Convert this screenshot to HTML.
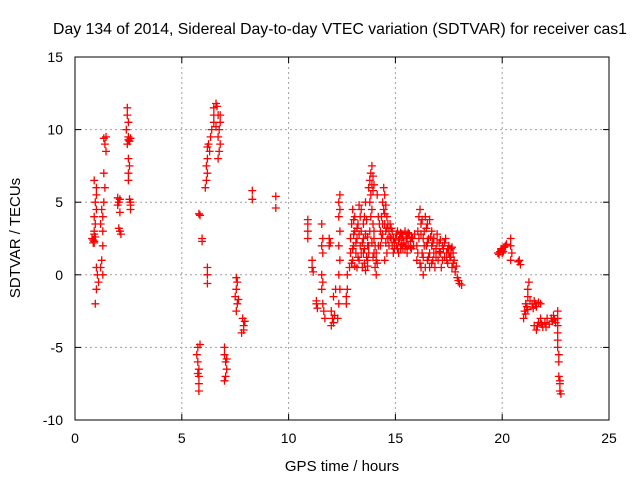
<!DOCTYPE html>
<html><head><meta charset="utf-8"><style>
body{margin:0;background:#fff}
svg{display:block;font-family:"Liberation Sans",sans-serif}
</style></head><body>
<svg id="chart" width="640" height="480" viewBox="0 0 640 480" xmlns="http://www.w3.org/2000/svg">
<rect width="640" height="480" fill="#fff"/>
<text x="340" y="34" font-size="15.8" text-anchor="middle">Day 134 of 2014, Sidereal Day-to-day VTEC variation (SDTVAR) for receiver cas1</text>
<text transform="translate(20,238) rotate(-90)" font-size="15" text-anchor="middle">SDTVAR / TECUs</text>
<text x="342" y="471" font-size="15" text-anchor="middle">GPS time / hours</text>
<g id="grid"></g>
<g id="ticks"></g>
<g id="marks"></g>
<rect x="75" y="57" width="534" height="363" fill="none" stroke="#000" stroke-width="1"/>
</svg>
<script>
const xTicks=[0,5,10,15,20,25];
const yTicks=[-10,-5,0,5,10,15];
const pts=[
[0.8,2.5],[0.85,2.2],[0.9,2.8],[0.9,3.0],[0.95,3.5],[0.9,4.0],[1.0,4.5],[0.95,5.0],[1.0,5.5],[1.0,6.0],[0.9,6.5],[0.95,-2.0],[1.0,-1.0],[1.05,0],[1.0,0.5],[0.9,2.3],[0.95,2.6],[1.1,-0.5],[0.85,2.4],[0.9,2.2],
[1.45,9.5],[1.4,9.0],[1.45,8.5],[1.35,7.0],[1.4,6.0],[1.35,5.0],[1.3,4.0],[1.3,3.0],[1.3,2.0],[1.25,1.0],[1.2,0.5],[1.3,0],[1.35,9.4],[1.2,3.5],[1.25,4.5],
[2.0,5.3],[2.05,5.0],[2.1,5.2],[2.0,4.8],[2.1,3.0],[2.15,2.8],[2.05,3.2],[2.1,4.3],
[2.45,11.5],[2.45,11.0],[2.5,10.5],[2.4,10.0],[2.5,9.5],[2.55,9.2],[2.45,9.0],[2.5,8.0],[2.55,7.5],[2.5,7.0],[2.5,6.5],[2.6,5.0],[2.6,4.8],[2.55,5.2],[2.6,4.5],[2.5,9.3],[2.6,9.4],
[5.75,-5.0],[5.7,-5.5],[5.75,-6.0],[5.8,-6.5],[5.75,-6.8],[5.8,-7.0],[5.8,-7.5],[5.8,-8.0],[5.85,-4.8],[5.8,4.2],[5.85,4.1],[5.95,2.5],[5.95,2.3],
[6.2,0.5],[6.2,0],[6.2,-0.6],
[6.1,6.0],[6.15,6.5],[6.2,7.0],[6.15,7.5],[6.2,8.0],[6.3,8.5],[6.25,9.0],[6.35,9.5],[6.4,10.0],[6.5,10.5],[6.5,11.0],[6.5,11.5],[6.6,11.8],[6.65,11.6],[6.7,11.0],[6.8,10.5],[6.75,10.0],[6.7,9.5],[6.8,9.0],[6.75,8.5],[6.7,8.0],[6.2,8.8],[6.8,11.0],[6.6,10.2],
[7.0,-5.0],[7.0,-5.5],[7.05,-6.0],[7.1,-6.5],[7.05,-7.0],[7.0,-7.3],[7.1,-5.8],
[7.55,-0.2],[7.6,-0.5],[7.55,-1.0],[7.5,-1.5],[7.6,-2.0],[7.55,-2.5],[7.65,-1.7],
[7.85,-3.0],[7.9,-3.5],[7.8,-4.0],[7.95,-3.2],[7.9,-3.8],
[8.3,5.8],[8.3,5.2],[9.4,5.4],[9.4,4.6],
[10.9,3.8],[10.9,3.5],[10.9,3.0],[10.9,2.5],[11.1,1.0],[11.1,0.5],[11.15,0.2],[11.3,-2.0],[11.35,-2.3],[11.3,-1.8],
[11.55,3.5],[11.6,2.5],[11.55,2.0],[11.6,1.5],[11.55,0],[11.6,-0.5],[11.55,-1.0],[11.6,-2.0],[11.65,-2.5],[11.7,-3.0],[11.9,2.5],[11.95,2.2],[11.9,2.0],
[12.0,-2.5],[12.05,-3.0],[12.1,-3.3],[12.15,-2.8],[12.1,-1.5],[12.2,-1.0],[12.0,-3.5],
[12.4,5.5],[12.35,5.0],[12.4,4.5],[12.35,4.0],[12.4,3.0],[12.35,2.0],[12.4,1.0],[12.35,0],[12.4,-1.0],[12.35,-2.0],[12.3,-3.0],
[12.7,-1.5],[12.7,-2.0],[12.75,-1.0],[12.75,0],
[12.85,0.5],[12.9,1.5],[12.9,2.5],[12.95,3.5],[13.0,4.5],[13.0,1.0],[13.05,2.0],[13.1,3.0],[13.1,4.0],[13.15,1.5],[13.2,0.5],[13.2,2.5],[13.25,3.5],[13.3,4.8],[13.3,1.0],[13.35,2.0],[13.4,3.0],[13.4,4.5],[13.45,0.5],[13.5,1.5],[13.5,2.5],[13.55,4.0],[13.6,5.0],[13.6,0.3],[13.65,1.2],[13.7,2.0],
[12.95,0.8],[13.0,1.8],[13.05,2.8],[13.05,3.8],[13.1,0.6],[13.15,2.2],[13.2,3.2],[13.25,1.2],[13.3,2.8],[13.35,4.0],[13.4,1.5],[13.45,2.2],[13.5,3.5],[13.55,0.8],[13.55,1.8],[13.6,2.8],[13.65,3.8],[13.7,0.6],[13.7,2.6],[13.75,1.5],
[13.75,6.0],[13.8,6.5],[13.85,7.0],[13.9,7.5],[13.95,6.8],[14.0,6.2],[13.85,5.5],[13.9,4.5],[13.95,3.5],[14.0,2.5],[14.0,1.5],[14.05,0.5],[14.1,0],[14.1,1.0],[13.8,3.0],[13.75,2.0],[13.7,1.0],[14.15,5.5],[14.2,4.0],[14.2,2.0],
[13.8,5.0],[13.85,4.0],[13.9,2.2],[13.95,1.2],[14.0,3.0],[14.05,2.0],[14.1,1.5],[14.15,0.8],[13.9,6.2],[13.95,5.8],
[14.3,3.0],[14.35,4.0],[14.4,5.0],[14.45,6.0],[14.5,5.5],[14.4,3.5],[14.5,4.2],[14.55,3.0],[14.6,4.0],[14.65,3.5],[14.7,3.0],[14.7,2.0],[14.75,2.6],[14.8,3.2],[14.85,2.0],[14.9,1.5],[14.95,2.2],[14.6,1.5],[14.5,1.0],[14.3,2.0],
[14.25,3.5],[14.35,2.5],[14.45,4.5],[14.5,3.5],[14.55,4.8],[14.6,3.2],[14.65,2.5],[14.75,3.5],[14.8,2.5],[14.85,3.0],[14.9,2.5],[14.95,1.8],[14.4,2.8],[14.55,2.2],
[15.0,2.5],[15.05,2.0],[15.1,3.0],[15.2,2.5],[15.25,1.8],[15.3,2.8],[15.4,2.2],[15.45,3.0],[15.5,2.5],[15.55,1.5],[15.6,2.0],[15.65,2.8],[15.7,2.3],[15.75,1.8],[15.8,2.5],[15.15,1.5],[15.35,1.8],
[15.05,2.8],[15.1,1.8],[15.15,2.4],[15.25,2.9],[15.3,2.1],[15.35,2.6],[15.45,1.8],[15.5,2.0],[15.55,2.6],[15.6,2.9],[15.7,1.9],[15.75,2.6],[15.85,2.0],[15.9,2.8],
[16.0,1.0],[16.0,2.0],[16.05,3.0],[16.1,4.0],[16.15,4.5],[16.2,3.5],[16.2,0.5],[16.25,1.5],[16.3,2.5],[16.3,0],[16.35,3.0],[16.4,4.0],[16.45,2.0],[16.5,1.0],[16.5,3.5],[16.55,2.5],[16.6,0.5],[16.6,1.5],[16.7,3.0],[16.7,2.0],[16.75,1.0],[16.8,2.5],
[16.05,1.5],[16.1,2.5],[16.15,0.8],[16.2,2.8],[16.25,3.8],[16.3,1.2],[16.35,2.0],[16.4,0.5],[16.45,3.2],[16.5,2.2],[16.55,1.2],[16.6,3.8],[16.65,2.6],[16.7,0.8],[16.75,2.2],[16.8,1.5],
[16.85,0.5],[16.9,1.8],[16.95,2.8],[17.0,1.0],[17.05,2.2],[17.1,1.5],[17.15,0.5],[17.2,2.0],[17.3,1.2],[17.35,2.5],[17.4,1.5],[17.45,0.8],[17.5,2.0],[17.55,1.2],[17.6,1.8],[17.65,0.5],[17.7,1.5],[17.75,1.0],[17.8,0.2],[17.85,0.6],[17.9,-0.2],[17.95,-0.4],[18.0,-0.6],[18.1,-0.7],
[16.9,1.2],[16.95,2.2],[17.05,1.6],[17.1,2.4],[17.2,1.0],[17.25,1.8],[17.3,2.2],[17.4,1.0],[17.45,1.8],[17.5,1.5],[17.6,1.2],[17.65,1.9],[17.7,0.8],
[19.8,1.5],[19.9,1.6],[20.0,1.7],[20.1,1.9],[20.2,2.1],[20.0,1.5],[20.4,2.5],[20.4,2.0],[20.45,1.5],[20.4,1.0],[20.8,1.0],[20.85,0.7],[20.75,0.9],[19.85,1.4],[19.95,1.8],[20.05,1.6],[20.15,2.0],
[21.0,-3.0],[21.05,-2.5],[21.1,-2.0],[21.2,-1.0],[21.25,-0.5],[21.2,-1.5],[21.15,-2.2],[21.3,-1.8],[21.1,-2.7],[21.2,-2.4],
[21.4,-2.0],[21.5,-1.8],[21.6,-2.2],[21.7,-1.9],[21.8,-2.0],[21.45,-2.3],[21.55,-2.0],
[21.5,-3.5],[21.6,-3.8],[21.7,-3.3],[21.8,-3.0],[21.9,-3.6],[22.0,-3.3],[22.1,-3.0],[22.2,-3.4],[21.65,-3.5],[21.85,-3.4],[22.05,-3.6],
[22.3,-3.0],[22.4,-2.8],[22.5,-3.3],[22.45,-3.1],[22.35,-3.2],
[22.6,-2.5],[22.6,-3.0],[22.6,-3.5],[22.6,-4.0],[22.6,-4.5],[22.6,-5.0],[22.65,-5.5],[22.65,-6.0],[22.65,-7.0],[22.7,-7.3],[22.7,-7.5],[22.7,-8.0],[22.75,-8.2]
];
const X0=75,X1=609,Y0=420,Y1=57;
const xs=h=>X0+(h-0)/(25-0)*(X1-X0);
const ys=v=>Y0-(v-(-10))/(15-(-10))*(Y0-Y1);
const NS='http://www.w3.org/2000/svg';
const grid=document.getElementById('grid'),ticks=document.getElementById('ticks'),marks=document.getElementById('marks');
function mk(tag,at,parent){const e=document.createElementNS(NS,tag);for(const k in at)e.setAttribute(k,at[k]);parent.appendChild(e);return e;}
xTicks.forEach(t=>{
  const x=xs(t);
  if(t>0&&t<25){const g=mk('line',{x1:x,x2:x,y1:Y1,y2:Y0,stroke:'#a0a0a0','stroke-dasharray':'2,3'},grid);
  
  }
  mk('line',{x1:x,x2:x,y1:Y0,y2:Y0-6,stroke:'#000'},ticks);
  mk('line',{x1:x,x2:x,y1:Y1,y2:Y1+6,stroke:'#000'},ticks);
  const tx=mk('text',{x:x,y:Y0+23,'font-size':14,'text-anchor':'middle'},ticks);
  tx.textContent=t;
  
  
});
yTicks.forEach(t=>{
  const y=ys(t);
  if(t>-10&&t<15){const g=mk('line',{x1:X0,x2:X1,y1:y,y2:y,stroke:'#a0a0a0','stroke-dasharray':'2,3'},grid);
  
  }
  mk('line',{x1:X0,x2:X0+6,y1:y,y2:y,stroke:'#000'},ticks);
  mk('line',{x1:X1,x2:X1-6,y1:y,y2:y,stroke:'#000'},ticks);
  const tx=mk('text',{x:X0-12,y:y+5,'font-size':14,'text-anchor':'end'},ticks);
  tx.textContent=t;
  
  
});
let d='';
pts.forEach(p=>{const x=xs(p[0]),y=ys(p[1]);d+=`M${(x-4).toFixed(1)} ${y.toFixed(1)}h8M${x.toFixed(1)} ${(y-4).toFixed(1)}v8`;});
const path=mk('path',{d:d,stroke:'#ff0000','stroke-width':1.3,fill:'none'},marks);


</script>
</body></html>
